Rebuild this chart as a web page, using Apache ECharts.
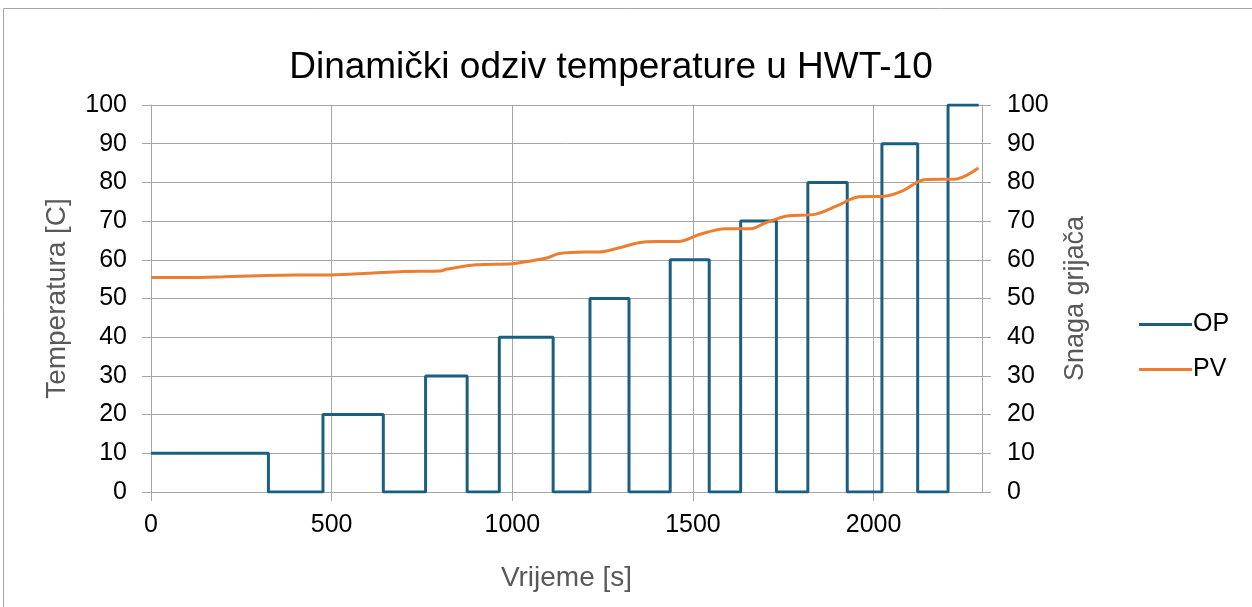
<!DOCTYPE html>
<html>
<head>
<meta charset="utf-8">
<script src="https://cdn.jsdelivr.net/npm/echarts@6/dist/echarts.min.js"></script>
<style>
html, body { margin: 0; padding: 0; background: #fff; }
#chart { width: 1252px; height: 607px; }
</style>
</head>
<body>
<div id="chart"></div>
<script>
// OP: time where each level starts, and the level held until the next change
var opTimes = [0, 325, 476, 643, 760, 875, 964, 1113, 1215, 1323, 1437, 1545, 1632, 1731, 1818, 1927, 2023, 2122, 2206, 2291];
var opLevels = [10, 0, 20, 0, 30, 0, 40, 0, 50, 0, 60, 0, 70, 0, 80, 0, 90, 0, 100, 100];

// PV: measured temperature
var pvTimes = [0, 100, 200, 300, 400, 500, 600, 700, 800, 820, 900, 1000, 1050, 1100, 1130, 1200, 1240, 1300, 1350, 1400, 1460, 1520, 1590, 1660, 1700, 1760, 1840, 1900, 1960, 2030, 2080, 2140, 2230, 2290];
var pvValues = [55.4, 55.4, 55.6, 55.9, 56.1, 56.1, 56.5, 57.0, 57.1, 57.6, 58.7, 59.0, 59.7, 60.6, 61.6, 62.0, 62.0, 63.2, 64.4, 64.7, 64.7, 66.6, 68.0, 68.0, 69.5, 71.3, 71.8, 74.0, 76.3, 76.4, 77.8, 80.7, 80.9, 83.7];

var opData = opTimes.map(function(t, i) { return [t, opLevels[i]]; });
var pvData = pvTimes.map(function(t, i) { return [t, pvValues[i]]; });

var chartDom = document.getElementById('chart');
var myChart = echarts.init(chartDom);
var font = 'Liberation Sans, Arial, sans-serif';
var gridColor = '#a6a6a6';
var plain = function(v) { return String(v); };

var option = {
	backgroundColor: '#fff',
	animation: false,
	textStyle: { fontFamily: font },
	graphic: [{
		type: 'rect',
		shape: { x: 3.5, y: 8.5, width: 1260, height: 620 },
		style: { fill: 'none', stroke: '#a6a6a6', lineWidth: 1 }
	}],
	title: {
		text: 'Dinamički odziv temperature u HWT-10',
		left: 606,
		textAlign: 'center',
		top: 44,
		textStyle: { fontFamily: font, fontSize: 37, fontWeight: 'normal', color: '#000' }
	},
	legend: {
		orient: 'vertical',
		left: 1134,
		top: 307,
		itemWidth: 53,
		itemHeight: 3,
		itemGap: 20,
		icon: 'rect',
		textStyle: { fontFamily: font, fontSize: 25, color: '#000', padding: [0, 0, 0, -4] },
		data: ['OP', 'PV']
	},
	grid: { left: 151, right: 270, top: 105, bottom: 115, containLabel: false },
	xAxis: {
		type: 'value',
		min: 0,
		max: 2300,
		interval: 500,
		name: 'Vrijeme [s]',
		nameLocation: 'middle',
		nameGap: 72,
		nameTextStyle: { fontFamily: font, fontSize: 28, color: '#595959' },
		axisLine: { show: true, lineStyle: { color: gridColor } },
		axisTick: { show: true, length: 9, lineStyle: { color: gridColor } },
		axisLabel: { fontFamily: font, fontSize: 25, color: '#000', margin: 21, showMaxLabel: false, formatter: plain },
		splitLine: { show: true, lineStyle: { color: gridColor, width: 1 } }
	},
	yAxis: [{
		type: 'value',
		min: 0,
		max: 100,
		interval: 10,
		name: 'Temperatura [C]',
		nameLocation: 'middle',
		nameGap: 80,
		nameTextStyle: { fontFamily: font, fontSize: 28, color: '#595959' },
		axisLine: { show: true, lineStyle: { color: gridColor } },
		axisTick: { show: true, length: 9, lineStyle: { color: gridColor } },
		axisLabel: { fontFamily: font, fontSize: 25, color: '#000', margin: 24, formatter: plain },
		splitLine: { show: true, lineStyle: { color: gridColor, width: 1 } }
	}, {
		type: 'value',
		min: 0,
		max: 100,
		interval: 10,
		position: 'right',
		name: 'Snaga grijača',
		nameLocation: 'middle',
		nameGap: 80,
		nameRotate: 90,
		nameTextStyle: { fontFamily: font, fontSize: 27, color: '#595959' },
		axisLine: { show: true, lineStyle: { color: gridColor } },
		axisTick: { show: true, length: 9, lineStyle: { color: gridColor } },
		axisLabel: { fontFamily: font, fontSize: 25, color: '#000', margin: 25, formatter: plain },
		splitLine: { show: false }
	}],
	series: [{
		name: 'OP',
		type: 'line',
		yAxisIndex: 1,
		step: 'end',
		showSymbol: false,
		data: opData,
		color: '#1a5f82',
		lineStyle: { width: 3, color: '#1a5f82' }
	}, {
		name: 'PV',
		type: 'line',
		yAxisIndex: 0,
		smooth: 0.3,
		showSymbol: false,
		data: pvData,
		color: '#ed7d31',
		lineStyle: { width: 3, color: '#ed7d31' }
	}]
};

option && myChart.setOption(option);
</script>
</body>
</html>
